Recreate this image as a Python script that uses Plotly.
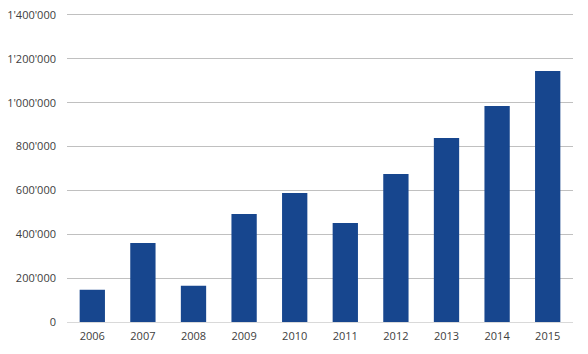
import plotly.graph_objects as go

years = ["2006", "2007", "2008", "2009", "2010", "2011", "2012", "2013", "2014", "2015"]
values = [147000, 360000, 165000, 492000, 588000, 451000, 675000, 839000, 985000, 1145000]
y_ticks = [0, 200000, 400000, 600000, 800000, 1000000, 1200000, 1400000]

fig = go.Figure(go.Bar(x=years, y=values, marker_color="#17468E", marker_line_width=0, width=0.5))

fig.update_layout(
    width=588, height=354,
    margin=dict(l=67, r=15, t=4, b=32),
    paper_bgcolor="white", plot_bgcolor="white",
    separators=".'",
    font=dict(family="Open Sans", size=11, color="#404040"),
    showlegend=False,
    bargap=0.5,
)
fig.update_xaxes(showgrid=False, showline=True, linecolor="#d9d9d9", linewidth=1,
                 ticks="", ticklabelstandoff=4, tickfont=dict(size=11, color="#404040"))
fig.update_yaxes(range=[0, 1450000], tickvals=y_ticks, tickformat=",", showgrid=True,
                 gridcolor="#c0c0c0", gridwidth=1, zeroline=False, showline=False,
                 ticks="", ticklabelstandoff=10, tickfont=dict(size=11, color="#404040"))

fig.write_html("out.html")
